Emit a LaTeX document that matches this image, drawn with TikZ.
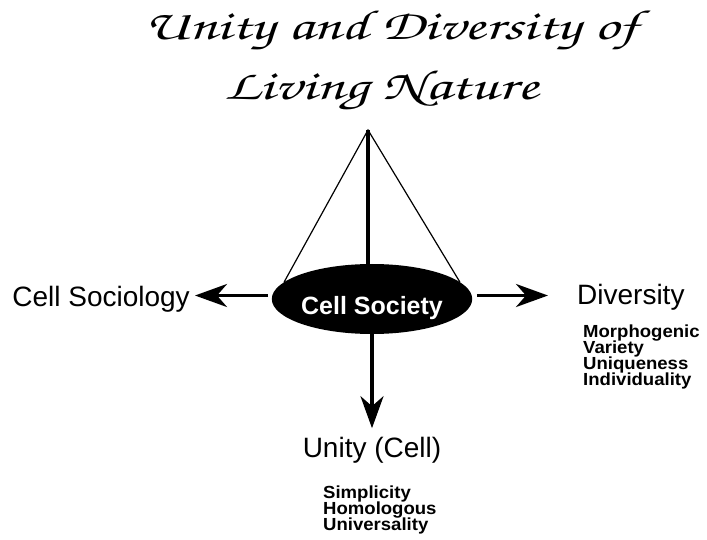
\documentclass[tikz,border=0pt]{standalone}
\usepackage[T1]{fontenc}
\usepackage{fontspec}
\setsansfont{Liberation Sans}
\newfontfamily\listsf[FakeStretch=1.06]{Liberation Sans}
\usetikzlibrary{shapes.geometric,arrows.meta}

% 标题用的花体字 (Zapf Chancery)
\newcommand{\chancery}{\fontencoding{T1}\fontfamily{pzc}\fontseries{mb}\fontshape{it}\selectfont}
% 小字列表: 行距固定, 不让 lineskip 撑开
\newcommand{\listfont}{\listsf\bfseries\fontsize{17.5}{16}\selectfont\setlength{\lineskiplimit}{-20pt}}

\tikzset{
  titletext/.style={anchor=base, inner sep=0pt, font=\chancery\fontsize{42}{46}\selectfont},
  biglabel/.style={font=\sffamily\fontsize{28}{30}\selectfont, inner sep=0pt},
  smalllist/.style={font=\listfont, align=left, inner sep=0pt},
  fatarrow/.style={line width=3.5pt, -{Stealth[length=32pt,width=23pt,inset=10pt]}},
}

\begin{document}
\begin{tikzpicture}[x=1pt, y=-1pt]
    % --- 画布范围 ---
    \useasboundingbox (0,0) rectangle (707,540);

    % --- 标题 ---
    \node[titletext] (title1) at (391,40) {\scalebox{1.44}[1]{Unity and Diversity of}};
    \node[titletext] (title2) at (381,100) {\scalebox{1.46}[1]{Living Nature}};

    % --- 中心椭圆 ---
    % 文字在椭圆里稍微偏下
    \node[ellipse, fill=black, text=white, minimum width=200pt, minimum height=70pt,
          inner sep=0pt, font=\sffamily\bfseries\fontsize{25}{28}\selectfont]
          (soc) at (372,299) {\raisebox{-15pt}[0pt][0pt]{Cell Society}};

    % --- 顶点和锥形 ---
    \coordinate (apex) at (368,130);
    \draw[line width=1.2pt] (soc.169) -- (apex) -- (soc.11);
    \draw[line width=4pt] (apex) -- (apex |- soc.north);

    % --- 三个方向的标签 ---
    \node[biglabel, anchor=base east] (sociology) at (190,306) {Cell Sociology};
    \node[biglabel, anchor=base west] (diversity) at (577,305) {Diversity};
    \node[biglabel, anchor=base] (unity) at (372,457) {Unity (Cell)};

    % 小字列表
    \node[smalllist, anchor=north west] (divlist) at (583,325)
        {Morphogenic\\Variety\\Uniqueness\\Individuality};
    \node[smalllist, anchor=north west] (unilist) at (323,486)
        {Simplicity\\Homologous\\Universality};

    % --- 箭头 ---
    \draw[fatarrow, shorten <=4pt, shorten >=5pt] (soc.178) -- (sociology.east |- soc.178);
    \draw[fatarrow, shorten <=5pt, shorten >=29pt] (soc.2) -- (diversity.west |- soc.2);
    \draw[fatarrow] (soc.south) -- ++(0,94);
\end{tikzpicture}
\end{document}
